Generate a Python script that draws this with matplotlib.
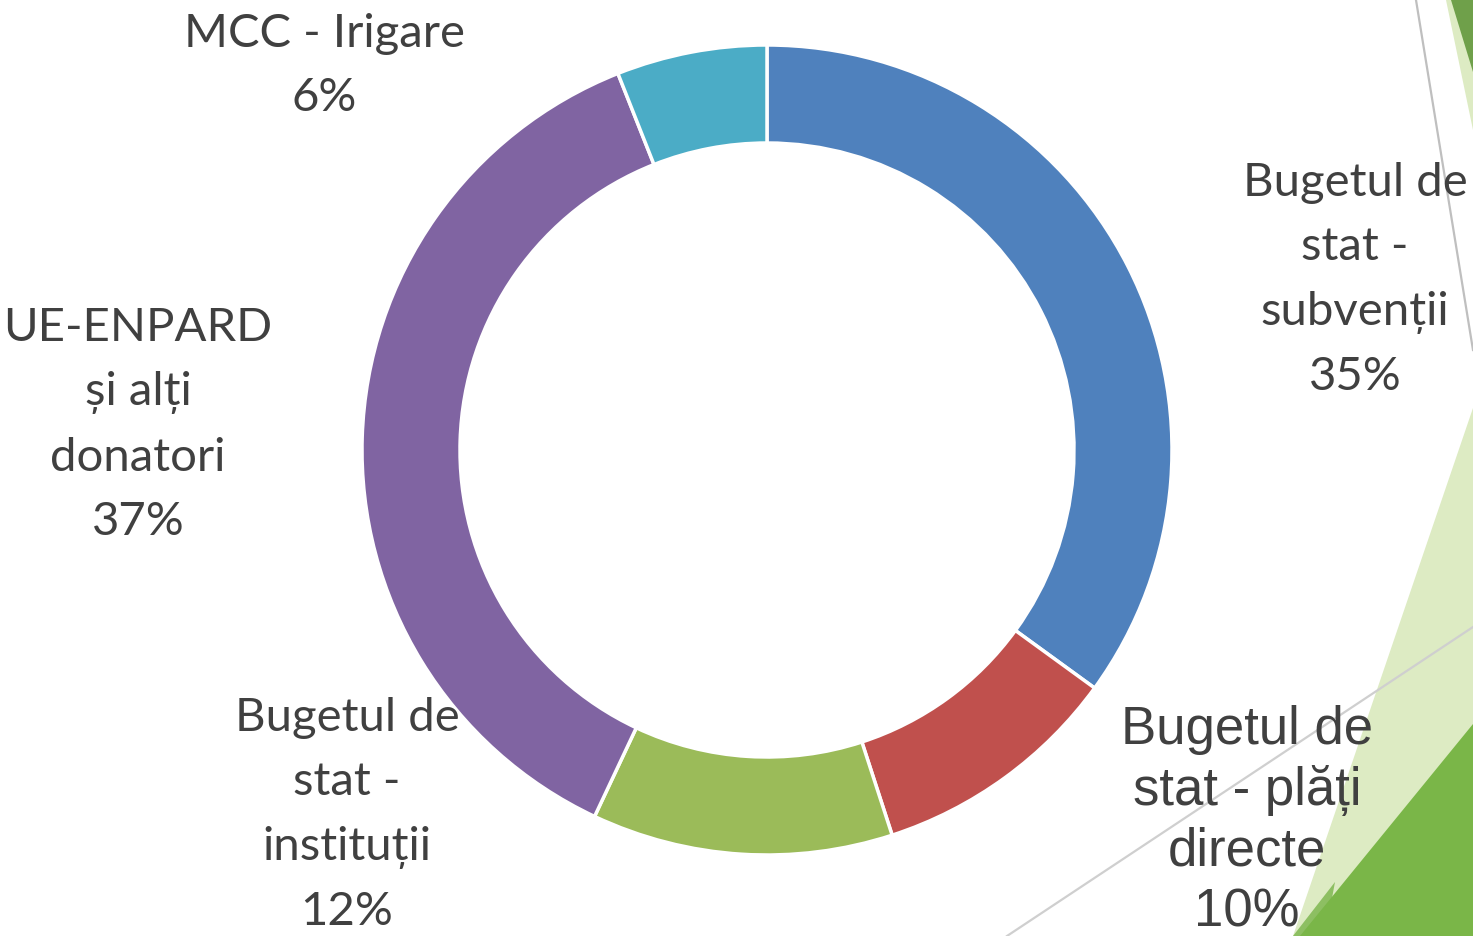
import matplotlib
matplotlib.use("Agg")
import matplotlib.pyplot as plt
from matplotlib.patches import Polygon

W, H = 1473, 936

# chart data
labels = ["Bugetul de\nstat -\nsubvenții", "Bugetul de\nstat - plăți\ndirecte",
          "Bugetul de\nstat -\ninstituții", "UE-ENPARD\nși alți\ndonatori",
          "MCC - Irigare"]
values = [35, 10, 12, 37, 6]
colors = ["#4F81BD", "#C0504D", "#9BBB59", "#8064A2", "#4BACC6"]

# label centres in pixel coords (x, y from top)
label_pos = [(1355, 280), (1247, 821), (347, 815), (138, 425), (324, 66)]


def fy(y):
    return H - y


fig = plt.figure(figsize=(W / 100, H / 100), dpi=100)
ax = fig.add_axes([0, 0, 1, 1])

# slide background decoration
deco = [
    ([(1473, 408), (1473, 936), (1293, 936)], "#DDEBC3"),
    ([(1335, 882), (1293, 936), (1325, 936)], "#8DBF62"),
    ([(1473, 724), (1473, 936), (1300, 936)], "#7AB648"),
    ([(1446, 0), (1473, 0), (1473, 130)], "#DDEBC3"),
    ([(1451, 0), (1473, 0), (1473, 72)], "#6FA04A"),
]
for pts, c in deco:
    ax.add_patch(Polygon([(x, fy(y)) for x, y in pts], closed=True,
                         facecolor=c, edgecolor="none", zorder=0))
ax.plot([1416, 1473], [fy(0), fy(350)], color="#BFBFBF", lw=1.6, zorder=1)
ax.plot([1007, 1473], [fy(936), fy(627)], color="#CFCFCF", lw=1.6, zorder=1)

ax.pie(values, colors=colors, startangle=90, counterclock=False,
       center=(767, fy(450)), radius=405,
       wedgeprops=dict(width=98, edgecolor="white", linewidth=2.5))

for i, (lab, v) in enumerate(zip(labels, values)):
    x, y = label_pos[i]
    if i == 1:
        ax.text(x, fy(y), f"{lab}\n{v}%", ha="center", va="center",
                fontsize=38, color="#404040", linespacing=1.27,
                family=["Liberation Sans", "DejaVu Sans"], zorder=3)
    else:
        ax.text(x, fy(y), f"{lab}\n{v}%", ha="center", va="center",
                fontsize=34, color="#404040", linespacing=1.65,
                family=["Lato", "DejaVu Sans"], zorder=3)

ax.set_xlim(0, W)
ax.set_ylim(0, H)
ax.set_aspect("equal")
ax.axis("off")

fig.savefig("out.png", dpi=100)
